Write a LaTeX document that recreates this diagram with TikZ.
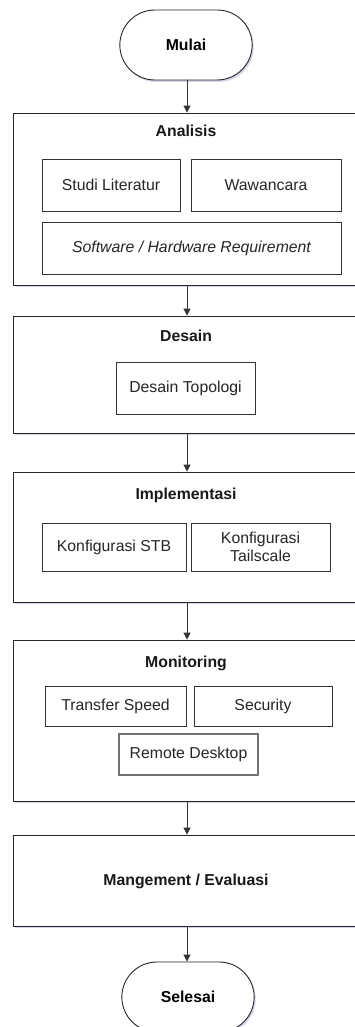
\documentclass[tikz,border=0pt]{standalone}
\usepackage{fontspec}
\setmainfont{Liberation Sans}
\usetikzlibrary{shapes.misc, shadows, arrows.meta}

\begin{document}
\begin{tikzpicture}[x=1pt, y=-1pt, line width=0.9pt,
    font=\fontsize{15.8}{18.5}\selectfont,
    terminal/.style={rounded rectangle, draw=black!85, fill=white, minimum width=139pt, minimum height=70pt, font=\fontsize{15.8}{18.5}\selectfont\bfseries,
        drop shadow={shadow xshift=1.5pt, shadow yshift=-2pt, opacity=0.25, fill=blue!30!gray}},
    phase/.style={rectangle, draw=black!85, fill=white, minimum width=352pt,
        drop shadow={shadow xshift=1.5pt, shadow yshift=-2pt, opacity=0.25, fill=blue!30!gray}},
    task/.style={rectangle, draw=black!80, fill=white, inner sep=2pt, align=center, text=black!85},
    title/.style={font=\fontsize{15.8}{18.5}\selectfont\bfseries, text=black!90},
    flow/.style={-{Triangle[length=7pt, width=7pt]}, draw=black!80, line width=1pt}]
    \useasboundingbox (0,0) rectangle (355,1027);
    \clip (0,0) rectangle (355,1027);

    \node[terminal] (mulai) at (186,45) {Mulai};

    \node[phase, minimum height=172pt] (analisis) at (189,199) {};
    \node[title] (analisisT) at (186,131) {Analisis};
    \node[task, minimum width=138pt, minimum height=52pt] (studi) at (111,185) {Studi Literatur};
    \node[task, minimum width=150pt, minimum height=52pt] (wawancara) at (266,185) {Wawancara};
    \node[task, minimum width=299pt, minimum height=52pt] (software) at (191.5,248) {\itshape Software / Hardware Requirement};

    \node[phase, minimum height=117pt] (desain) at (189,374.5) {};
    \node[title] (desainT) at (186,336) {Desain};
    \node[task, minimum width=139pt, minimum height=52pt] (topologi) at (185.5,388) {Desain Topologi};

    \node[phase, minimum height=130pt] (impl) at (189,537) {};
    \node[title] (implT) at (186,495) {Implementasi};
    \node[task, minimum width=144pt, minimum height=48pt] (stb) at (114,547) {Konfigurasi STB};
    \node[task, minimum width=139pt, minimum height=48pt] (tailscale) at (260.5,547) {Konfigurasi\\Tailscale};

    \node[phase, minimum height=161pt] (monitoring) at (189,720.5) {};
    \node[title] (monitoringT) at (186,663) {Monitoring};
    \node[task, minimum width=141pt, minimum height=40pt] (transfer) at (115.5,706) {Transfer Speed};
    \node[task, minimum width=138pt, minimum height=40pt] (security) at (263,706) {Security};
    \node[task, draw=black!55, line width=1.3pt, minimum width=139pt, minimum height=41pt] (remote) at (188.5,754.5) {Remote Desktop};

    \node[phase, minimum height=91pt] (evaluasi) at (189,880.5) {};
    \node[title] (evaluasiT) at (186,881) {Mangement / Evaluasi};

    \node[terminal] (selesai) at (188,997) {Selesai};

    \coordinate (axis) at (187,0);
    \draw[flow] (analisis.north -| axis) ++(0,-33) -- (analisis.north -| axis);
    \draw[flow] (analisis.south -| axis) -- (desain.north -| axis);
    \draw[flow] (desain.south -| axis) -- (impl.north -| axis);
    \draw[flow] (impl.south -| axis) -- (monitoring.north -| axis);
    \draw[flow] (monitoring.south -| axis) -- (evaluasi.north -| axis);
    \draw[flow] (evaluasi.south -| axis) -- (selesai.north -| axis);
\end{tikzpicture}
\end{document}
